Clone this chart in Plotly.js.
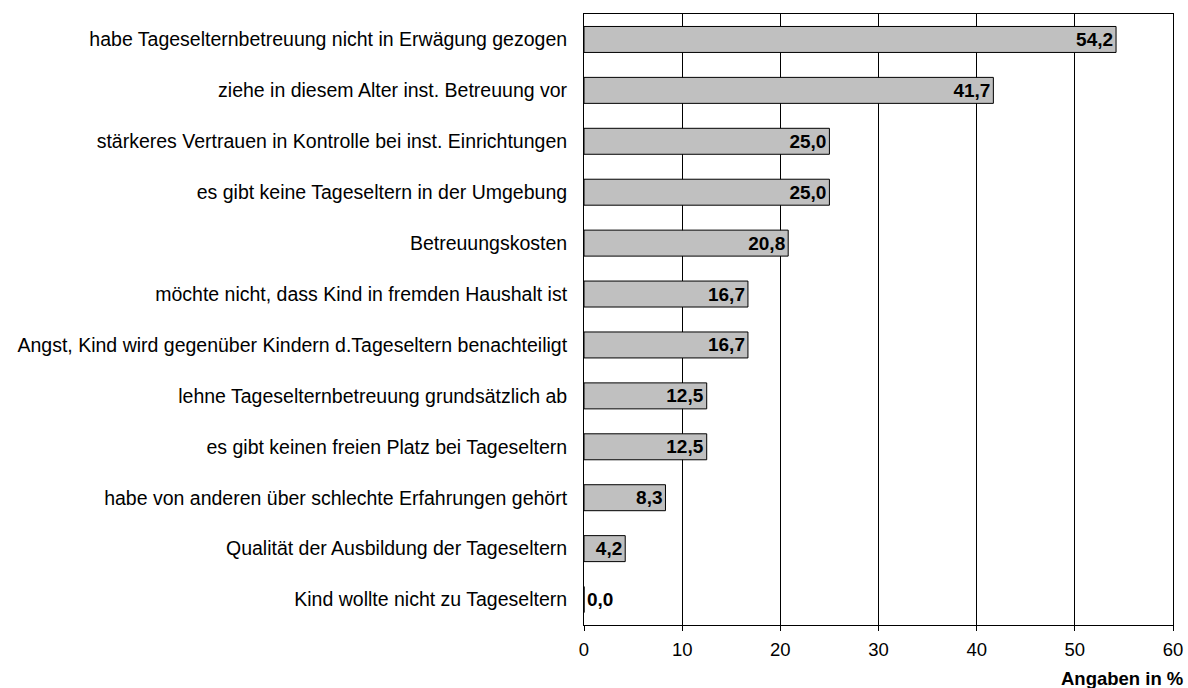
<!DOCTYPE html>
<html><head><meta charset="utf-8">
<script src="https://cdn.plot.ly/plotly-3.0.1.min.js"></script>
<style>html,body{margin:0;padding:0;background:#fff}#chart{width:1188px;height:688px}</style>
</head><body><div id="chart"></div>
<script>
const categories = [
  "habe Tageselternbetreuung nicht in Erwägung gezogen",
  "ziehe in diesem Alter inst. Betreuung vor",
  "stärkeres Vertrauen in Kontrolle bei inst. Einrichtungen",
  "es gibt keine Tageseltern in der Umgebung",
  "Betreuungskosten",
  "möchte nicht, dass Kind in fremden Haushalt ist",
  "Angst, Kind wird gegenüber Kindern d.Tageseltern benachteiligt",
  "lehne Tageselternbetreuung grundsätzlich ab",
  "es gibt keinen freien Platz bei Tageseltern",
  "habe von anderen über schlechte Erfahrungen gehört",
  "Qualität der Ausbildung der Tageseltern",
  "Kind wollte nicht zu Tageseltern"
];
const values = [54.2, 41.7, 25.0, 25.0, 20.8, 16.7, 16.7, 12.5, 12.5, 8.3, 4.2, 0.0];
const xTicks = [0, 10, 20, 30, 40, 50, 60];
const xTitle = "Angaben in %";

const labels = values.map(v => v.toFixed(1).replace('.', ','));
const positions = values.map(v => v > 0 ? 'inside' : 'outside');
const FS = 18.5;
const FAM = 'Liberation Sans, Arial, sans-serif';

const trace = {
  type: 'bar', orientation: 'h',
  x: values, y: categories,
  marker: {color: '#c0c0c0', line: {color: '#000', width: 1}},
  text: labels, textposition: positions, insidetextanchor: 'end',
  constraintext: 'none', cliponaxis: false,
  textfont: {family: FAM, size: 19, color: '#000', weight: 'bold'},
  insidetextfont: {family: FAM, size: 19, color: '#000', weight: 'bold'},
  outsidetextfont: {family: FAM, size: 19, color: '#000', weight: 'bold'},
  hoverinfo: 'none'
};

const layout = {
  width: 1188, height: 688,
  margin: {l: 584, r: 15, t: 14, b: 63},
  paper_bgcolor: '#fff', plot_bgcolor: '#fff',
  bargap: 0.49,
  showlegend: false,
  font: {family: FAM, size: FS, color: '#000'},
  xaxis: {
    range: [0, 60], tickvals: xTicks, ticktext: xTicks.map(String),
    showgrid: true, gridcolor: '#000', gridwidth: 1,
    zeroline: false, showline: true, linecolor: '#000', linewidth: 1, mirror: true,
    ticks: 'outside', ticklen: 5, tickcolor: '#000', ticklabelstandoff: 3,
    tickfont: {size: FS}, fixedrange: true
  },
  yaxis: {
    autorange: 'reversed', type: 'category',
    showgrid: false, zeroline: false, showline: true, linecolor: '#000', linewidth: 1, mirror: true,
    ticks: '', ticklabelstandoff: 12, tickfont: {size: 19.5}, fixedrange: true
  },
  annotations: [{
    text: '<b>' + xTitle + '</b>', xref: 'paper', yref: 'paper',
    x: 1, y: 0, xanchor: 'right', yanchor: 'top', yshift: -41, xshift: 12,
    showarrow: false, font: {size: FS, color: '#000'}
  }]
};

Plotly.newPlot('chart', [trace], layout, {staticPlot: true, displayModeBar: false});
</script></body></html>
